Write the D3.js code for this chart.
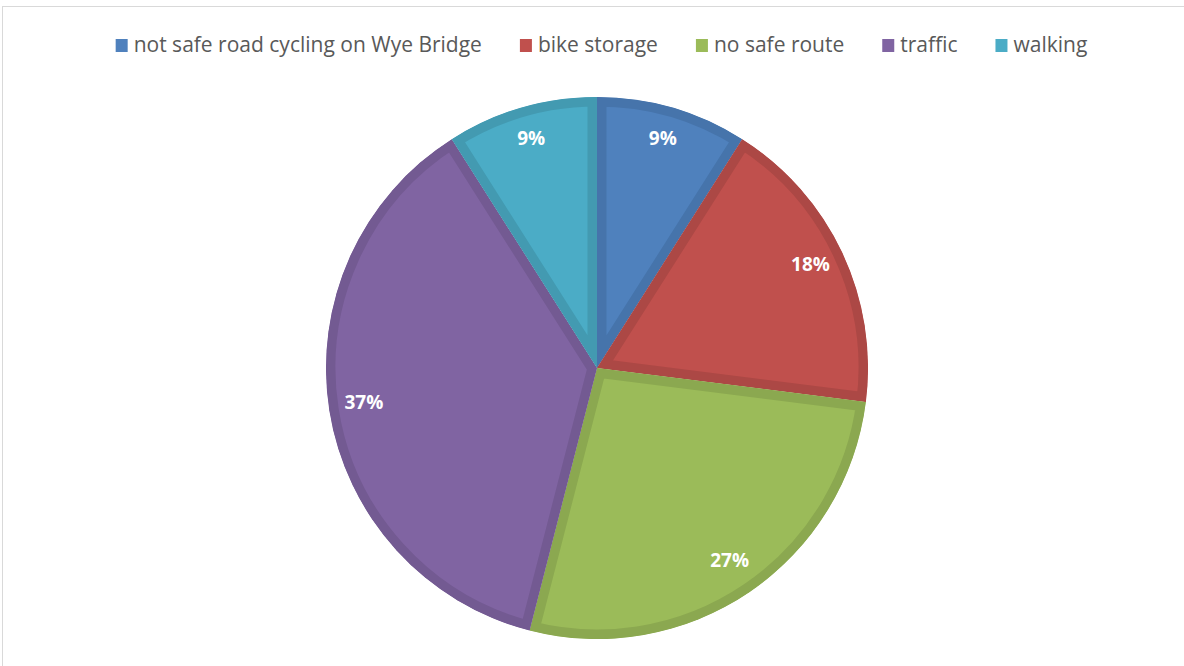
<!DOCTYPE html>
<html>
<head>
<meta charset="utf-8">
<script src="https://cdn.jsdelivr.net/npm/d3@7"></script>
<style>
  body { margin: 0; background: #fff; }
  svg { display: block; }
</style>
</head>
<body>
<svg width="1184" height="666"></svg>
<script>
const categories = ["not safe road cycling on Wye Bridge", "bike storage", "no safe route", "traffic", "walking"];
const values = [9, 18, 27, 37, 9];
const labels = ["9%", "18%", "27%", "37%", "9%"];
const fills = ["#4F81BD", "#C0504D", "#9BBB59", "#8064A2", "#4BACC6"];
const edges = ["#4674AB", "#AC4845", "#8BA850", "#735A92", "#439AB1"];

const width = 1184;
const height = 666;
const cx = 597;
const cy = 368;
const radius = 271;
const svg = d3.select("svg");

// chart area border
svg.append("rect")
  .attr("x", 2.5).attr("y", 6.5)
  .attr("width", width).attr("height", height)
  .attr("fill", "none")
  .attr("stroke", "#d9d9d9");

const pie = d3.pie().sort(null).value(d => d)(values);
const arc = d3.arc().innerRadius(0).outerRadius(radius);
const labelArc = d3.arc().innerRadius(236).outerRadius(236);

const defs = svg.append("defs");
const g = svg.append("g").attr("transform", "translate(" + [cx, cy] + ")");

pie.forEach((d, i) => {
  defs.append("clipPath").attr("id", "clip" + i)
    .append("path").attr("d", arc(d));
  g.append("path")
    .attr("d", arc(d))
    .attr("fill", fills[i])
    .attr("stroke", edges[i])
    .attr("stroke-width", 19)
    .attr("stroke-linejoin", "miter")
    .attr("clip-path", "url(#clip" + i + ")");
});

g.selectAll("text.lbl")
  .data(pie)
  .enter()
  .append("text")
  .attr("class", "lbl")
  .attr("transform", d => "translate(" + labelArc.centroid(d) + ")")
  .attr("text-anchor", "middle")
  .attr("dy", "0.2em")
  .attr("fill", "#fff")
  .attr("font-family", "Open Sans")
  .attr("font-weight", "bold")
  .attr("font-size", 19)
  .text((d, i) => labels[i]);

// legend
const legend = svg.append("g");
const items = legend.selectAll("g")
  .data(categories)
  .enter()
  .append("g");

items.append("rect")
  .attr("width", 12).attr("height", 13)
  .attr("y", -13)
  .attr("fill", (d, i) => fills[i]);

items.append("text")
  .attr("x", 18)
  .attr("font-family", "Open Sans")
  .attr("font-size", 21)
  .attr("fill", "#595959")
  .text(d => d);

let x = 0;
const gap = 38;
items.each(function () {
  const w = 18 + d3.select(this).select("text").node().getComputedTextLength();
  d3.select(this).attr("transform", "translate(" + [x, 0] + ")");
  x += w + gap;
});
const total = x - gap;
legend.attr("transform", "translate(" + [601.5 - total / 2, 52] + ")");
</script>
</body>
</html>
